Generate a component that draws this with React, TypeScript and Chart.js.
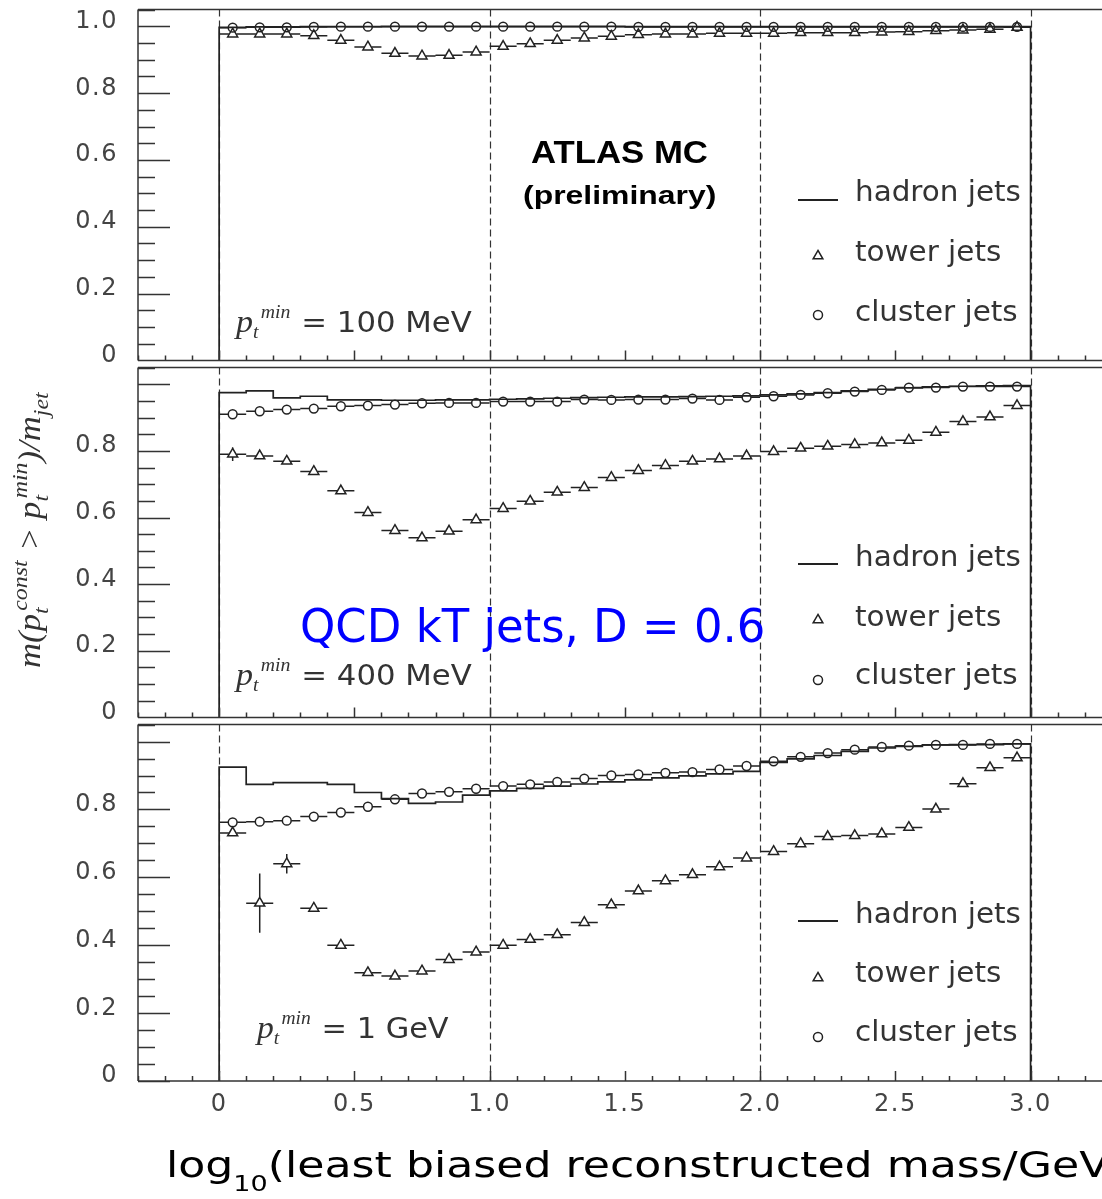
import React, { useEffect, useLayoutEffect, useRef } from "react";
import { Chart, registerables } from "chart.js";

Chart.register(...registerables);

// ---------------- data ----------------
const binCenters = [
  0.05, 0.15, 0.25, 0.35, 0.45, 0.55, 0.65, 0.75, 0.85, 0.95,
  1.05, 1.15, 1.25, 1.35, 1.45, 1.55, 1.65, 1.75, 1.85, 1.95,
  2.05, 2.15, 2.25, 2.35, 2.45, 2.55, 2.65, 2.75, 2.85, 2.95,
];
const binHalfWidth = 0.05;
const regionEdges = [0, 1, 2, 3];

const yTickLabelsTop = ["0", "0.2", "0.4", "0.6", "0.8", "1.0"];
const yTickLabelsLower = ["0", "0.2", "0.4", "0.6", "0.8", ""];
const xTickLabels = ["0", "0.5", "1.0", "1.5", "2.0", "2.5", "3.0"];
const ptMinLabels = ["100 MeV", "400 MeV", "1 GeV"];
const seriesNames = ["hadron jets", "tower jets", "cluster jets"];

// p_t^min = 100 MeV
const hadron100 = [
  0.997, 0.998, 0.998, 0.999, 0.999, 0.999, 1.0, 1.0, 1.0, 1.0,
  1.0, 1.0, 1.0, 1.0, 1.0, 0.999, 0.999, 0.999, 0.999, 0.999,
  0.999, 0.999, 0.999, 0.999, 0.999, 0.999, 0.999, 0.999, 0.999, 0.999,
];
const tower100 = [
  0.977, 0.977, 0.977, 0.972, 0.958, 0.938, 0.919, 0.911, 0.913, 0.923,
  0.94, 0.948, 0.958, 0.965, 0.97, 0.975, 0.977, 0.977, 0.979, 0.979,
  0.979, 0.981, 0.981, 0.981, 0.983, 0.984, 0.987, 0.989, 0.991, 0.997,
];
const towerErr100 = [
  0, 0, 0, 0, 0, 0, 0, 0, 0, 0, 0, 0, 0, 0, 0,
  0, 0, 0, 0, 0, 0, 0, 0, 0, 0, 0, 0, 0, 0, 0,
];
const cluster100 = [
  0.996, 0.997, 0.997, 0.998, 0.999, 0.999, 0.999, 0.999, 0.999, 0.999,
  0.999, 0.999, 0.999, 0.999, 0.999, 0.998, 0.998, 0.998, 0.998, 0.998,
  0.998, 0.998, 0.998, 0.998, 0.998, 0.998, 0.998, 0.998, 0.998, 0.998,
];

// p_t^min = 400 MeV
const hadron400 = [
  0.975, 0.98, 0.959, 0.964, 0.953, 0.953, 0.952, 0.952, 0.953, 0.953,
  0.955, 0.956, 0.958, 0.96, 0.961, 0.962, 0.962, 0.963, 0.964, 0.965,
  0.968, 0.971, 0.975, 0.98, 0.985, 0.989, 0.992, 0.994, 0.995, 0.996,
];
const tower400 = [
  0.79, 0.785, 0.769, 0.738, 0.68, 0.615, 0.561, 0.539, 0.559, 0.593,
  0.627, 0.649, 0.676, 0.69, 0.72, 0.741, 0.756, 0.769, 0.776, 0.785,
  0.798, 0.808, 0.814, 0.819, 0.824, 0.832, 0.856, 0.888, 0.902, 0.936,
];
const towerErr400 = [
  0.02, 0, 0, 0, 0, 0, 0, 0, 0, 0, 0, 0, 0, 0, 0,
  0, 0, 0, 0, 0, 0, 0, 0, 0, 0, 0, 0, 0, 0, 0,
];
const cluster400 = [
  0.91, 0.919, 0.924, 0.927, 0.934, 0.936, 0.939, 0.943, 0.944, 0.944,
  0.948, 0.948, 0.948, 0.954, 0.953, 0.954, 0.954, 0.957, 0.953, 0.961,
  0.964, 0.968, 0.973, 0.978, 0.983, 0.99, 0.99, 0.993, 0.993, 0.993,
];

// p_t^min = 1 GeV
const hadron1000 = [
  0.925, 0.874, 0.879, 0.879, 0.874, 0.85, 0.832, 0.818, 0.822, 0.842,
  0.855, 0.862, 0.869, 0.875, 0.881, 0.887, 0.893, 0.899, 0.905, 0.912,
  0.939, 0.949, 0.959, 0.971, 0.981, 0.986, 0.99, 0.991, 0.991, 0.993,
];
const tower1000 = [
  0.731, 0.524, 0.64, 0.509, 0.4, 0.319, 0.309, 0.324, 0.358, 0.38,
  0.4, 0.417, 0.431, 0.467, 0.519, 0.56, 0.59, 0.608, 0.631, 0.657,
  0.676, 0.699, 0.72, 0.723, 0.728, 0.747, 0.801, 0.876, 0.923, 0.952,
];
const towerErr1000 = [
  0, 0.087, 0.029, 0, 0, 0, 0, 0, 0, 0, 0, 0, 0, 0, 0,
  0, 0, 0, 0, 0, 0, 0, 0, 0, 0, 0, 0, 0, 0, 0,
];
const cluster1000 = [
  0.762, 0.764, 0.767, 0.779, 0.791, 0.808, 0.83, 0.847, 0.852, 0.861,
  0.869, 0.874, 0.881, 0.891, 0.9, 0.903, 0.908, 0.91, 0.918, 0.928,
  0.942, 0.955, 0.966, 0.976, 0.984, 0.988, 0.99, 0.99, 0.993, 0.993,
];

// ---------------- styles / layout ----------------
const INK = "#222";
const FRAME = "#333";
const TEXT = "#333";
const SANS = '"DejaVu Sans", "Noto Sans", sans-serif';
const SERIF = '"Liberation Serif", "DejaVu Serif", serif';
const ARIAL = '"Liberation Sans", Arial, sans-serif';

const CANVAS_W = 1119;
const Y_AXIS_W = 138;
const PAD_TOP = 28;
const PAD_BOTTOM = 24;
const X_AXIS_H = 118;
const panelBoxes = [
  { top: 8, h: 358 },
  { top: 366, h: 357 },
  { top: 723, h: 358 },
];

const panels = [
  { hadron: hadron100, tower: tower100, towerErr: towerErr100, cluster: cluster100, yLabels: yTickLabelsTop },
  { hadron: hadron400, tower: tower400, towerErr: towerErr400, cluster: cluster400, yLabels: yTickLabelsLower },
  { hadron: hadron1000, tower: tower1000, towerErr: towerErr1000, cluster: cluster1000, yLabels: yTickLabelsLower },
];

function histogramOutline(values: number[]) {
  const pts = [{ x: binCenters[0] - binHalfWidth, y: 0 }];
  values.forEach((v, i) => pts.push({ x: binCenters[i] - binHalfWidth, y: v }));
  pts.push({ x: binCenters[binCenters.length - 1] + binHalfWidth, y: 0 });
  return pts;
}
function toPoints(values: number[]) {
  return values.map((v, i) => ({ x: binCenters[i], y: v }));
}

const panelDecor = {
  id: "panelDecor",
  beforeDraw(chart: any) {
    (chart.ctx as any).letterSpacing = "1.5px";
  },
  beforeDatasetsDraw(chart: any) {
    const { ctx, chartArea, scales } = chart;
    const xs = scales.x;
    ctx.save();
    ctx.strokeStyle = FRAME;
    ctx.lineWidth = 1.2;
    ctx.setLineDash([7, 4]);
    for (const v of regionEdges) {
      const px = Math.round(xs.getPixelForValue(v)) + 0.5;
      ctx.beginPath();
      ctx.moveTo(px, chartArea.top);
      ctx.lineTo(px, chartArea.bottom);
      ctx.stroke();
    }
    ctx.restore();
  },
  afterDatasetsDraw(chart: any) {
    const { ctx, chartArea, scales } = chart;
    const xs = scales.x;
    const ys = scales.y;
    // error bars
    chart.data.datasets.forEach((ds: any, di: number) => {
      const eb = ds.errorBars;
      if (!eb) return;
      const meta = chart.getDatasetMeta(di);
      ctx.save();
      ctx.strokeStyle = INK;
      ctx.lineWidth = 1.5;
      ctx.setLineDash([]);
      ctx.beginPath();
      meta.data.forEach((el: any, i: number) => {
        const raw = ds.data[i];
        const xl = xs.getPixelForValue(raw.x - binHalfWidth);
        const xr = xs.getPixelForValue(raw.x + binHalfWidth);
        if (el.x - eb.gapX > xl) {
          ctx.moveTo(xl, el.y);
          ctx.lineTo(el.x - eb.gapX, el.y);
        }
        if (xr > el.x + eb.gapX) {
          ctx.moveTo(el.x + eb.gapX, el.y);
          ctx.lineTo(xr, el.y);
        }
        const e = eb.yErr ? eb.yErr[i] : 0;
        if (e > 0) {
          const yt = ys.getPixelForValue(raw.y + e);
          const yb = ys.getPixelForValue(raw.y - e);
          if (yt < el.y - eb.gapUp) {
            ctx.moveTo(el.x, yt);
            ctx.lineTo(el.x, el.y - eb.gapUp);
          }
          if (yb > el.y + eb.gapDown) {
            ctx.moveTo(el.x, el.y + eb.gapDown);
            ctx.lineTo(el.x, yb);
          }
        }
      });
      ctx.stroke();
      ctx.restore();
    });
    // frame and ticks
    const { left, right, top, bottom } = chartArea;
    ctx.save();
    ctx.strokeStyle = FRAME;
    ctx.lineWidth = 1.5;
    ctx.setLineDash([]);
    ctx.beginPath();
    ctx.moveTo(left, top);
    ctx.lineTo(right, top);
    ctx.moveTo(left, bottom);
    ctx.lineTo(right, bottom);
    ctx.moveTo(left, top);
    ctx.lineTo(left, bottom);
    ctx.moveTo(right, top);
    ctx.lineTo(right, bottom);
    for (let k = 0; k * 0.05 <= ys.max + 1e-9; k++) {
      const py = Math.round(ys.getPixelForValue(k * 0.05)) + 0.5;
      const len = k % 4 === 0 ? 32 : 17;
      ctx.moveTo(left, py);
      ctx.lineTo(left + len, py);
    }
    const kMin = Math.ceil(xs.min * 10 - 1e-9);
    const kMax = Math.floor(xs.max * 10 + 1e-9);
    for (let k = kMin; k <= kMax; k++) {
      const px = Math.round(xs.getPixelForValue(k / 10)) + 0.5;
      const len = k % 5 === 0 ? 10 : 5;
      ctx.moveTo(px, bottom);
      ctx.lineTo(px, bottom - len);
    }
    ctx.stroke();
    ctx.restore();
  },
};

function makeChart(canvas: HTMLCanvasElement, p: any, idx: number) {
  const isBottom = idx === 2;
  return new Chart(canvas, {
    type: "scatter",
    data: {
      datasets: [
        {
          label: seriesNames[0],
          type: "line",
          data: histogramOutline(p.hadron),
          stepped: "before",
          borderColor: INK,
          borderWidth: 1.7,
          pointRadius: 0,
          fill: false,
          showLine: true,
          clip: false,
        } as any,
        {
          label: seriesNames[1],
          data: toPoints(p.tower),
          pointStyle: "triangle",
          pointRadius: 5.8,
          pointBorderWidth: 1.5,
          pointBorderColor: INK,
          pointBackgroundColor: "rgba(0,0,0,0)",
          clip: false,
          errorBars: { gapX: 3.8, gapUp: 5.8, gapDown: 2.9, yErr: p.towerErr },
        } as any,
        {
          label: seriesNames[2],
          data: toPoints(p.cluster),
          pointStyle: "circle",
          pointRadius: 4.4,
          pointBorderWidth: 1.5,
          pointBorderColor: INK,
          pointBackgroundColor: "rgba(0,0,0,0)",
          clip: false,
          errorBars: { gapX: 4.5, gapUp: 4.5, gapDown: 4.5, yErr: null },
        } as any,
      ],
    },
    options: {
      responsive: false,
      maintainAspectRatio: false,
      animation: false,
      devicePixelRatio: 1,
      events: [],
      layout: { padding: { top: PAD_TOP, bottom: isBottom ? 0 : PAD_BOTTOM, left: 0, right: 0 } },
      plugins: { legend: { display: false }, tooltip: { enabled: false }, title: { display: false } },
      scales: {
        x: {
          type: "linear",
          min: -0.3,
          max: 3.3,
          display: isBottom,
          grid: { display: false, drawTicks: false },
          border: { display: false },
          ticks: {
            stepSize: 0.5,
            includeBounds: false,
            autoSkip: false,
            maxRotation: 0,
            padding: 9,
            color: "#444",
            font: { family: SANS, size: 24 },
            callback: (v: any) => xTickLabels[Math.round(Number(v) / 0.5)] ?? "",
          },
          afterFit: (s: any) => {
            if (isBottom) s.height = X_AXIS_H;
          },
        } as any,
        y: {
          type: "linear",
          position: "left",
          min: 0,
          max: 1.05,
          grid: { display: false, drawTicks: false },
          border: { display: false },
          ticks: {
            stepSize: 0.2,
            includeBounds: false,
            padding: 20,
            color: "#444",
            font: { family: SANS, size: 24, lineHeight: 0.4 },
            callback: (v: any) => [p.yLabels[Math.round(Number(v) / 0.2)] ?? "", ""],
          },
          afterFit: (s: any) => {
            s.width = Y_AXIS_W;
          },
        } as any,
      },
    },
    plugins: [panelDecor],
  } as any);
}

// ---------------- text helpers ----------------
type FitProps = {
  x: number;
  baseline: number;
  size: number;
  family: string;
  width?: number;
  weight?: number | string;
  italic?: boolean;
  color?: string;
  k?: number;
  children: React.ReactNode;
};
function FitText({ x, baseline, size, family, width, weight = 400, italic = false, color = TEXT, k = 0.846, children }: FitProps) {
  const ref = useRef<HTMLDivElement>(null);
  useLayoutEffect(() => {
    const el = ref.current;
    if (!el || !width) return;
    el.style.transform = "none";
    const w = el.offsetWidth;
    if (w > 0) el.style.transform = `scaleX(${width / w})`;
  });
  return (
    <div
      ref={ref}
      style={{
        position: "absolute",
        left: x,
        top: baseline - k * size,
        fontSize: size,
        fontFamily: family,
        fontWeight: weight as any,
        fontStyle: italic ? "italic" : "normal",
        color,
        lineHeight: 1,
        whiteSpace: "nowrap",
        transformOrigin: "0 0",
      }}
    >
      {children}
    </div>
  );
}

function RotText({ cx, cy, size, width, children }: { cx: number; cy: number; size: number; width: number; children: React.ReactNode }) {
  const ref = useRef<HTMLDivElement>(null);
  useLayoutEffect(() => {
    const el = ref.current;
    if (!el) return;
    const w = el.offsetWidth;
    el.style.transform = `translate(-50%, -50%) rotate(-90deg) scaleX(${w > 0 ? width / w : 1})`;
  });
  return (
    <div
      ref={ref}
      style={{
        position: "absolute",
        left: cx,
        top: cy,
        fontSize: size,
        fontFamily: SERIF,
        fontStyle: "italic",
        lineHeight: 1,
        whiteSpace: "nowrap",
        color: TEXT,
        transformOrigin: "50% 50%",
      }}
    >
      {children}
    </div>
  );
}

function Scripts({
  sup,
  sub,
  size,
  width,
  supLeft = 0,
  subLeft = 0,
  raise = 0,
  drop = 0,
  k = 0.8375,
}: {
  sup?: string;
  sub?: string;
  size: number;
  width: number;
  supLeft?: number;
  subLeft?: number;
  raise?: number;
  drop?: number;
  k?: number;
}) {
  return (
    <span style={{ display: "inline-block", position: "relative", width, height: 0 }}>
      {sup ? (
        <span style={{ position: "absolute", left: supLeft, bottom: raise - (1 - k) * size, fontSize: size, lineHeight: 1 }}>{sup}</span>
      ) : null}
      {sub ? (
        <span style={{ position: "absolute", left: subLeft, top: drop - k * size, fontSize: size, lineHeight: 1 }}>{sub}</span>
      ) : null}
    </span>
  );
}

function PtLabel({ x, baseline, width, value }: { x: number; baseline: number; width: number; value: string }) {
  return (
    <FitText x={x} baseline={baseline} size={28} family={SANS} width={width} k={0.93}>
      <span style={{ fontFamily: SERIF, fontStyle: "italic" }}>
        <span style={{ fontSize: 31 }}>p</span>
        <Scripts sup="min" sub="t" size={18} width={44} supLeft={7} subLeft={0} raise={13.4} drop={6.6} />
      </span>
      {"= " + value}
    </FitText>
  );
}

const legendRows = [
  { line: 200, tri: 256, circ: 315, t1: 202, t2: 262, t3: 322 },
  { line: 564, tri: 620, circ: 680, t1: 567, t2: 627, t3: 685 },
  { line: 921, tri: 978, circ: 1037, t1: 924, t2: 983, t3: 1042 },
];
const ptLabelPos = [
  { x: 236, baseline: 332, width: 236 },
  { x: 236, baseline: 685, width: 236 },
  { x: 257, baseline: 1038, width: 192 },
];

function triPoints(cx: number, cy: number, r: number) {
  const pts: string[] = [];
  for (let i = 0; i < 3; i++) {
    const a = (i * 2 * Math.PI) / 3;
    pts.push(`${cx + Math.sin(a) * r},${cy - Math.cos(a) * r}`);
  }
  return pts.join(" ");
}

export default function App() {
  const r1 = useRef<HTMLCanvasElement>(null);
  const r2 = useRef<HTMLCanvasElement>(null);
  const r3 = useRef<HTMLCanvasElement>(null);
  const refs = [r1, r2, r3];

  useEffect(() => {
    const charts = refs.map((r, i) => makeChart(r.current as HTMLCanvasElement, panels[i], i));
    return () => charts.forEach((c) => c.destroy());
  }, []);

  const canvasHeights = panelBoxes.map((b, i) => PAD_TOP + b.h + (i === 2 ? X_AXIS_H : PAD_BOTTOM));

  return (
    <div style={{ position: "fixed", left: 0, top: 0, width: 1102, height: 1199, overflow: "hidden", background: "#fff" }}>
      {panelBoxes.map((b, i) => (
        <canvas
          key={i}
          ref={refs[i]}
          width={CANVAS_W}
          height={canvasHeights[i]}
          style={{ position: "absolute", left: 0, top: b.top - PAD_TOP, width: CANVAS_W, height: canvasHeights[i] }}
        />
      ))}

      <svg width={1102} height={1199} style={{ position: "absolute", left: 0, top: 0, pointerEvents: "none" }}>
        {legendRows.map((r, i) => (
          <g key={i}>
            <line x1={798} x2={838} y1={r.line} y2={r.line} stroke={INK} strokeWidth={2} />
            <polygon points={triPoints(818, r.tri, 5.6)} fill="none" stroke={INK} strokeWidth={1.5} />
            <circle cx={818} cy={r.circ} r={4.5} fill="none" stroke={INK} strokeWidth={1.5} />
          </g>
        ))}
      </svg>

      {legendRows.map((r, i) => (
        <React.Fragment key={i}>
          <FitText x={855} baseline={r.t1} size={28} family={SANS} width={166}>{seriesNames[0]}</FitText>
          <FitText x={855} baseline={r.t2} size={28} family={SANS} width={146}>{seriesNames[1]}</FitText>
          <FitText x={855} baseline={r.t3} size={28} family={SANS} width={163}>{seriesNames[2]}</FitText>
        </React.Fragment>
      ))}

      {ptLabelPos.map((p, i) => (
        <PtLabel key={i} x={p.x} baseline={p.baseline} width={p.width} value={ptMinLabels[i]} />
      ))}

      <FitText x={531} baseline={163} size={32} family={ARIAL} weight={700} width={177} color="#000" k={0.8465}>
        ATLAS MC
      </FitText>
      <FitText x={523} baseline={204} size={26} family={ARIAL} weight={700} width={194} color="#000" k={0.8465}>
        (preliminary)
      </FitText>

      <FitText x={300} baseline={642} size={46} family={SANS} width={465} color="#0000ff">
        QCD kT jets, D = 0.6
      </FitText>

      <FitText x={166} baseline={1177} size={36} family={SANS} width={961} color="#000">
        log<span style={{ fontSize: 22, position: "relative", top: 14 }}>10</span>(least biased reconstructed mass/GeV)
      </FitText>

      <RotText cx={28.5} cy={528} size={32} width={280}>
        m(p
        <Scripts sup="const" sub="t" size={22} width={50} supLeft={3} subLeft={0} raise={13} drop={8} />
        {" > p"}
        <Scripts sup="min" sub="t" size={22} width={36} supLeft={3} subLeft={0} raise={13} drop={8} />
        )/m
        <Scripts sub="jet" size={22} width={26} subLeft={0} drop={8} />
      </RotText>
    </div>
  );
}
